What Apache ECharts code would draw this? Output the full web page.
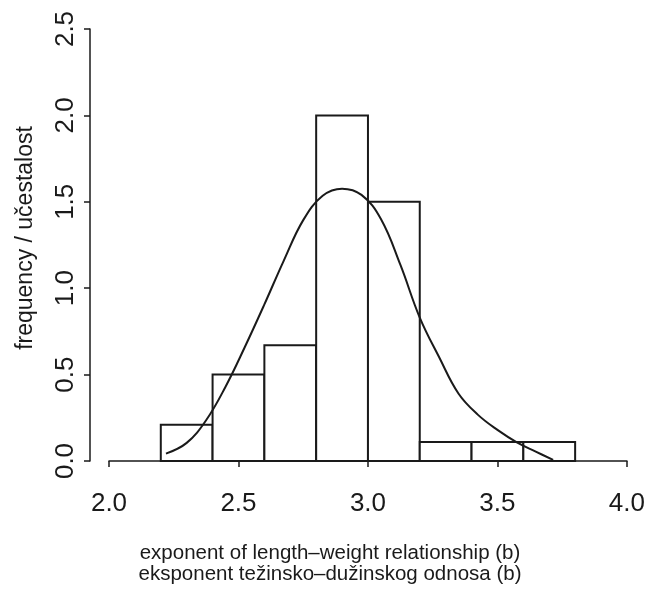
<!DOCTYPE html>
<html>
<head>
<meta charset="utf-8">
<script src="https://cdn.jsdelivr.net/npm/echarts@6/dist/echarts.min.js"></script>
<style>
  html, body { margin: 0; padding: 0; background: #fff; }
  #chart { width: 648px; height: 594px; }
</style>
</head>
<body>
<div id="chart"></div>
<script>
// histogram bins (left edge, right edge) and bar heights
const binStart = [2.2, 2.4, 2.6, 2.8, 3.0, 3.2, 3.4, 3.6]
const binEnd = [2.4, 2.6, 2.8, 3.0, 3.2, 3.4, 3.6, 3.8]
const binHeight = [0.21, 0.5, 0.67, 2.0, 1.5, 0.11, 0.11, 0.11]

// density curve
const curveX = [2.22, 2.30, 2.375, 2.45, 2.525, 2.60, 2.675, 2.75, 2.825, 2.90, 2.975, 3.05, 3.125, 3.20, 3.275, 3.35, 3.425, 3.50, 3.575, 3.65, 3.715]
const curveY = [0.043, 0.105, 0.236, 0.43, 0.661, 0.906, 1.16, 1.394, 1.535, 1.576, 1.54, 1.40, 1.136, 0.83, 0.60, 0.389, 0.267, 0.18, 0.108, 0.053, 0.006]

const xTitle = 'exponent of length\u2013weight relationship (b)\neksponent težinsko\u2013dužinskog odnosa (b)'
const yTitle = 'frequency / učestalost'

const font = "'Liberation Sans', Arial, Helvetica, sans-serif"
const ink = '#1a1a1a'

const chart = echarts.init(document.getElementById('chart'))
const bars = binStart.map((s, i) => [s, binEnd[i], binHeight[i]])
const curve = curveX.map((x, i) => [x, curveY[i]])

const option = {
  backgroundColor: '#fff',
  animation: false,
  title: {
    text: xTitle,
    left: 325,
    top: 538,
    textAlign: 'center',
    textStyle: { fontFamily: font, fontSize: 20.5, fontWeight: 'normal', color: ink, lineHeight: 21 }
  },
  grid: { left: 109, right: 19, top: 29, bottom: 133 },
  xAxis: {
    type: 'value',
    min: 2.0, max: 4.0, interval: 0.5,
    offset: 19,
    splitLine: { show: false },
    axisLine: { show: true, lineStyle: { color: ink, width: 1.5 } },
    axisTick: { show: true, length: 6, lineStyle: { color: ink, width: 1.5 } },
    axisLabel: { fontFamily: font, fontSize: 26, color: ink, margin: 11, formatter: v => v.toFixed(1) }
  },
  yAxis: {
    type: 'value',
    min: 0, max: 2.5, interval: 0.5,
    offset: 19,
    name: yTitle,
    nameLocation: 'middle',
    nameRotate: 90,
    nameGap: 53,
    nameTextStyle: { fontFamily: font, fontSize: 23, color: ink, padding: [0, 0, 0, 14] },
    splitLine: { show: false },
    axisLine: { show: true, lineStyle: { color: ink, width: 1.5 } },
    axisTick: { show: true, length: 6, lineStyle: { color: ink, width: 1.5 } },
    axisLabel: { fontFamily: font, fontSize: 26, color: ink, margin: 11, rotate: 90, formatter: v => v.toFixed(1) }
  },
  series: [
    {
      type: 'custom',
      data: bars,
      encode: { x: [0, 1], y: 2 },
      renderItem: (params, api) => {
        const p0 = api.coord([api.value(0), api.value(2)])
        const p1 = api.coord([api.value(1), 0])
        return {
          type: 'rect',
          shape: { x: p0[0], y: p0[1], width: p1[0] - p0[0], height: p1[1] - p0[1] },
          style: { fill: '#fff', stroke: ink, lineWidth: 2 }
        }
      }
    },
    {
      type: 'line',
      data: curve,
      smooth: 0.4,
      showSymbol: false,
      lineStyle: { color: ink, width: 2 },
      z: 5
    }
  ]
}
chart.setOption(option)
</script>
</body>
</html>
